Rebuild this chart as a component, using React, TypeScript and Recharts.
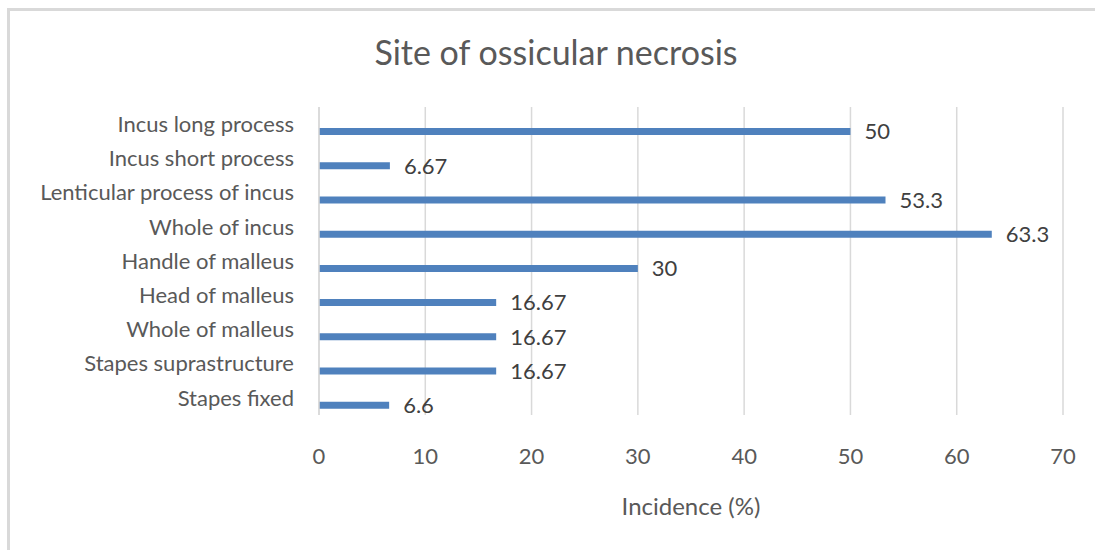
import React from "react";
import { BarChart, Bar, XAxis, YAxis, CartesianGrid, LabelList, Label } from "recharts";

const categories = [
  "Incus long process",
  "Incus short process",
  "Lenticular process of incus",
  "Whole of incus",
  "Handle of malleus",
  "Head of malleus",
  "Whole of malleus",
  "Stapes suprastructure",
  "Stapes fixed",
];
const incidence = [50, 6.67, 53.3, 63.3, 30, 16.67, 16.67, 16.67, 6.6];
const xTicks = [0, 10, 20, 30, 40, 50, 60, 70];

const data = categories.map((name, i) => ({ name, value: incidence[i] }));

const FONT = "Lato, 'Open Sans', sans-serif";

export default function App() {
  return (
    <div
      style={{
        position: "relative",
        top: 3,
        left: 3,
        width: 1076,
        height: 531,
        fontFamily: FONT,
        background: "#fff",
      }}
    >
      <div style={{ position: "fixed", left: 8, right: 0, top: 8, height: 3, background: "#d9d9d9" }} />
      <div style={{ position: "fixed", left: 7, width: 3, top: 8, bottom: 0, background: "#d9d9d9" }} />
      <div
        style={{
          position: "absolute",
          left: 245,
          width: 600,
          top: 20,
          lineHeight: "42px",
          fontSize: 34,
          textAlign: "center",
          color: "#595959",
        }}
      >
        Site of ossicular necrosis
      </div>
      <BarChart
        width={1076}
        height={531}
        data={data}
        layout="vertical"
        margin={{ top: 96, right: 24, bottom: 67, left: 0 }}
        barGap={8}
      >
        <CartesianGrid horizontal={false} stroke="#d9d9d9" strokeWidth={1.5} />
        <XAxis
          type="number"
          domain={[0, 70]}
          ticks={xTicks}
          height={60}
          axisLine={false}
          tickLine={false}
          tickSize={0}
          tickMargin={33}
          tick={{ fill: "#595959", fontSize: 22, fontFamily: FONT }}
        >
          <Label
            value="Incidence (%)"
            position="bottom"
            offset={23}
            style={{ fill: "#595959", fontSize: 24, fontFamily: FONT }}
          />
        </XAxis>
        <YAxis
          type="category"
          dataKey="name"
          width={308}
          axisLine={{ stroke: "#d9d9d9", strokeWidth: 1.5 }}
          tickLine={false}
          tickSize={0}
          tickMargin={25}
          interval={0}
          tick={{ fill: "#595959", fontSize: 22, fontFamily: FONT }}
        />
        <Bar dataKey="blank" barSize={7} fill="none" isAnimationActive={false} />
        <Bar dataKey="value" barSize={7} fill="#4F81BD" isAnimationActive={false}>
          <LabelList
            dataKey="value"
            position="right"
            offset={14}
            style={{ fill: "#404040", fontSize: 22, fontFamily: FONT }}
          />
        </Bar>
      </BarChart>
    </div>
  );
}
